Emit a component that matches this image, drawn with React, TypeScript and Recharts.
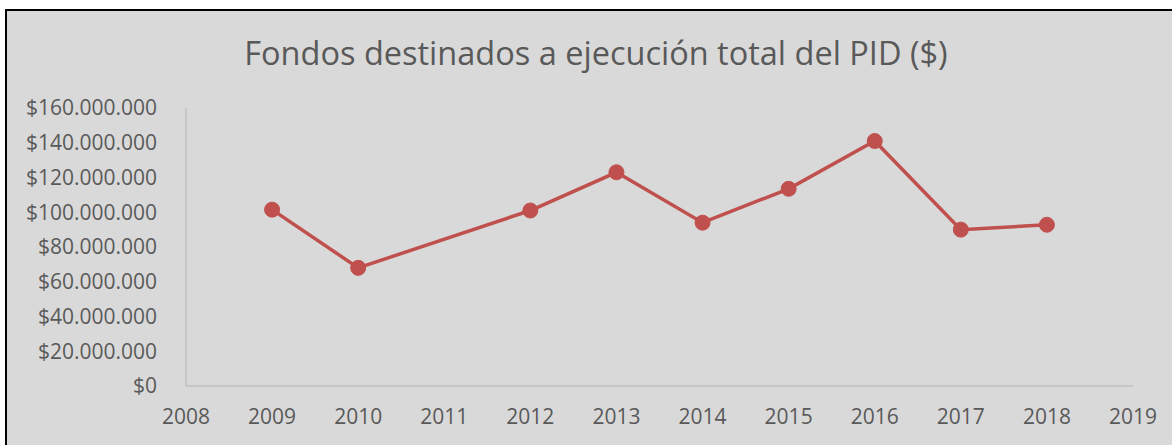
import React from 'react';
import { LineChart, Line, XAxis, YAxis } from 'recharts';

const years = [2009, 2010, 2012, 2013, 2014, 2015, 2016, 2017, 2018];
const fondos = [101500000, 68000000, 101000000, 123000000, 94000000, 113500000, 141000000, 90000000, 92800000];
const xTicks = [2008, 2009, 2010, 2011, 2012, 2013, 2014, 2015, 2016, 2017, 2018, 2019];
const yTicks = [0, 20000000, 40000000, 60000000, 80000000, 100000000, 120000000, 140000000, 160000000];

const data = years.map((year, i) => ({ year, value: fondos[i] }));

const fmtMoney = (v: number) => '$' + v.toLocaleString('de-DE');

const font = '"Open Sans", sans-serif';
const textColor = '#595959';

export default function App() {
  return (
    <div style={{ position: 'fixed', left: 0, top: 0, width: 1172, height: 445, overflow: 'hidden', background: '#fff' }}>
      <div
        style={{
          position: 'absolute', left: 5, top: 9, right: 0, bottom: 0,
          background: '#d9d9d9', borderTop: '2px solid #000', borderLeft: '2px solid #000',
        }}
      />
      <div
        style={{
          position: 'absolute', left: 0, top: 30, width: 1192, textAlign: 'center',
          fontFamily: font, fontSize: 32.5, color: textColor,
        }}
      >
        Fondos destinados a ejecución total del PID ($)
      </div>
      <div style={{ position: 'absolute', left: 0, top: 0 }}>
        <LineChart width={1172} height={445} data={data} margin={{ top: 108, right: 39, bottom: 0, left: 16 }}>
          <XAxis
            dataKey="year" type="number" domain={[2008, 2019]} ticks={xTicks}
            axisLine={{ stroke: '#bfbfbf', strokeWidth: 1.5 }} tickLine={false} tickSize={0} tickMargin={23}
            tick={{ fill: textColor, fontSize: 21, fontFamily: font }} height={59}
          />
          <YAxis
            type="number" domain={[0, 160000000]} ticks={yTicks} tickFormatter={fmtMoney}
            axisLine={{ stroke: '#bfbfbf', strokeWidth: 1.5 }} tickLine={false} tickSize={0} tickMargin={29}
            tick={{ fill: textColor, fontSize: 21, fontFamily: font }} width={170}
          />
          <Line
            dataKey="value" stroke="#c0504d" strokeWidth={3.5}
            dot={{ r: 7.5, fill: '#c0504d', stroke: '#c0504d', strokeWidth: 1 }}
            isAnimationActive={false}
          />
        </LineChart>
      </div>
    </div>
  );
}
